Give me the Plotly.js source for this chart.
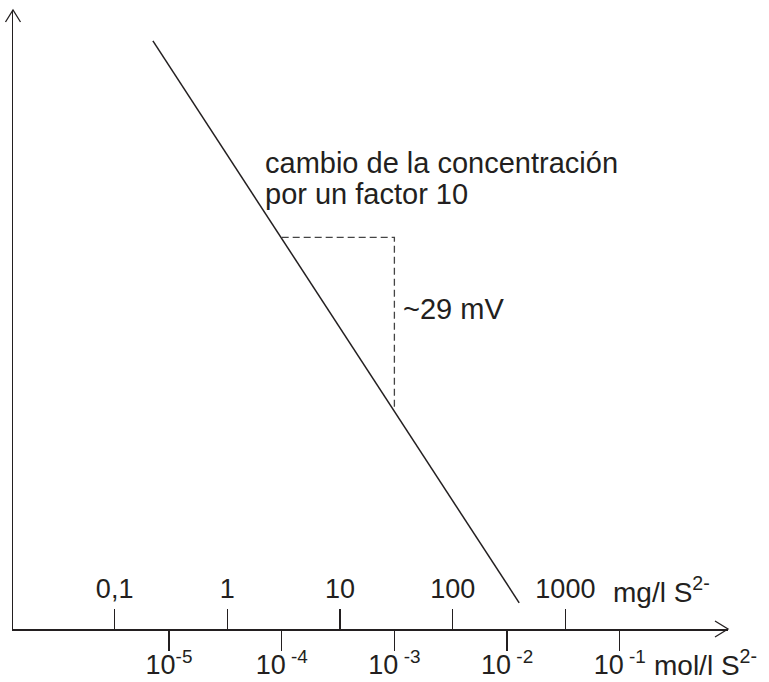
<!DOCTYPE html>
<html>
<head>
<meta charset="utf-8">
<script src="https://cdn.plot.ly/plotly-3.0.1.min.js"></script>
<style>html,body{margin:0;padding:0;background:#fff;}#chart{width:769px;height:682px;}</style>
</head>
<body>
<div id="chart"></div>
<script>
// concentration ticks (mol/l) on the lower side of the axis
const molTicks = [1e-5, 1e-4, 1e-3, 1e-2, 1e-1];
const molTickText = ['10<sup>-5</sup>', '10<sup> -4</sup>', '10<sup> -3</sup>', '10<sup> -2</sup>', '10<sup> -1</sup>'];
// concentration ticks (mg/l) on the upper side of the axis
const mgTicks = [0.1, 1, 10, 100, 1000];
const mgTickText = ['0,1', '1', '10', '100', '1000'];
// electrode response line: concentration (mol/l) vs potential (mV)
const lineConc = [7.2e-6, 1.28e-2];
const linePot = [98.8, 4.4];
// one-decade step (dashed)
const stepConc = [1e-4, 1e-3, 1e-3];
const stepPot = [65.8, 65.8, 37.0];

const ink = '#231f20';
const fontFam = '"Liberation Sans", Arial, Helvetica, sans-serif';

const traces = [
  {x: lineConc, y: linePot, mode: 'lines', type: 'scatter',
   line: {color: ink, width: 1.5}, hoverinfo: 'skip', showlegend: false},
  {x: stepConc, y: stepPot, mode: 'lines', type: 'scatter',
   line: {color: '#444', width: 1.3, dash: '7px,4px'}, hoverinfo: 'skip', showlegend: false},
  // invisible carrier so the mg/l axis gets drawn
  {x: mgTicks, y: mgTicks.map(() => 0), xaxis: 'x2', yaxis: 'y', mode: 'markers', type: 'scatter',
   marker: {opacity: 0, size: 1}, hoverinfo: 'skip', showlegend: false}
];

const layout = {
  width: 769, height: 682,
  margin: {l: 13, r: 41, t: 10, b: 53, pad: 0},
  paper_bgcolor: '#fff', plot_bgcolor: '#fff',
  font: {family: fontFam, color: ink, size: 27},
  showlegend: false,
  xaxis: {
    type: 'log', range: [-6.384, -0.040],
    tickmode: 'array', tickvals: molTicks, ticktext: molTickText,
    ticks: 'outside', ticklen: 20, tickwidth: 1.3, tickcolor: ink,
    ticklabelstandoff: -9,
    showline: true, linecolor: ink, linewidth: 1.5,
    showgrid: false, zeroline: false,
    tickfont: {family: fontFam, size: 27, color: ink}
  },
  xaxis2: {
    type: 'log', range: [-1.902, 4.443],
    overlaying: 'x', anchor: 'free', position: 0, side: 'top',
    tickmode: 'array', tickvals: mgTicks, ticktext: mgTickText,
    ticks: 'outside', ticklen: 20, tickwidth: 1.3, tickcolor: ink,
    showline: false, showgrid: false, zeroline: false,
    tickfont: {family: fontFam, size: 27, color: ink}
  },
  yaxis: {
    range: [0, 104],
    showticklabels: false, ticks: '',
    showline: true, linecolor: ink, linewidth: 1.5,
    showgrid: false, zeroline: false
  },
  shapes: [
    {type: 'path', xref: 'paper', yref: 'paper', xsizemode: 'pixel', ysizemode: 'pixel',
     xanchor: 1, yanchor: 0, path: 'M-13,8 L0,0 L-13,-8', line: {color: ink, width: 1.3}},
    {type: 'path', xref: 'paper', yref: 'paper', xsizemode: 'pixel', ysizemode: 'pixel',
     xanchor: 0, yanchor: 1, path: 'M-7.5,-12 L0,0 L7.5,-12', line: {color: ink, width: 1.3}}
  ],
  annotations: [
    {text: 'cambio de la concentración', xref: 'paper', yref: 'paper', x: 0.349, y: 0.7535,
     xanchor: 'left', yanchor: 'middle', showarrow: false, font: {family: fontFam, size: 29, color: ink}},
    {text: 'por un factor 10', xref: 'paper', yref: 'paper', x: 0.349, y: 0.7034,
     xanchor: 'left', yanchor: 'middle', showarrow: false, font: {family: fontFam, size: 29, color: ink}},
    {text: '~29 mV', xref: 'paper', yref: 'paper', x: 0.542, y: 0.5176,
     xanchor: 'left', yanchor: 'middle', showarrow: false, font: {family: fontFam, size: 29, color: ink}},
    {text: 'mg/l S<sup>2-</sup>', xref: 'paper', yref: 'paper', x: 0.837, y: 0.0635,
     xanchor: 'left', yanchor: 'middle', showarrow: false, font: {family: fontFam, size: 28, color: ink}},
    {text: 'mol/l S<sup>2-</sup>', xref: 'paper', yref: 'paper', x: 0.8937, y: -0.0545,
     xanchor: 'left', yanchor: 'middle', showarrow: false, font: {family: fontFam, size: 28, color: ink}}
  ]
};

Plotly.newPlot('chart', traces, layout, {staticPlot: true, displayModeBar: false});
</script>
</body>
</html>
